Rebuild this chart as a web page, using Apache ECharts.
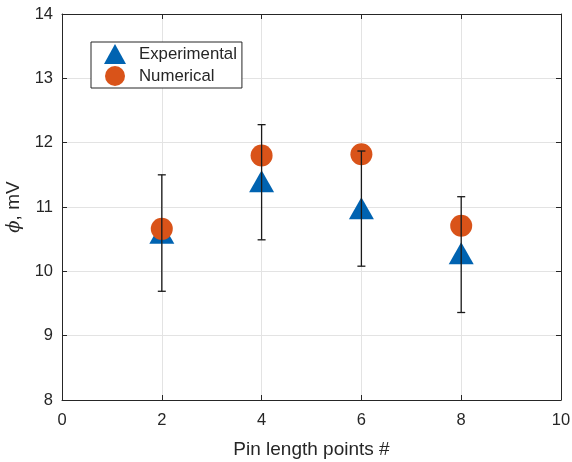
<!DOCTYPE html>
<html><head><meta charset="utf-8">
<script src="https://cdn.jsdelivr.net/npm/echarts@6/dist/echarts.min.js"></script>
<style>html,body{margin:0;padding:0;background:#fff}#c{width:572px;height:462px}</style>
</head><body><div id="c"></div>
<script>
const xPoints = [2, 4, 6, 8];
const experimental = [10.6, 11.4, 10.98, 10.28];
const numerical = [10.66, 11.8, 11.82, 10.71];
const errLow = [9.69, 10.49, 10.08, 9.36];
const errHigh = [11.5, 12.28, 11.87, 11.16];
const xTicks = [0, 2, 4, 6, 8, 10];
const yTicks = [8, 9, 10, 11, 12, 13, 14];

const chart = echarts.init(document.getElementById('c'));
const txt = '#262626';
const font = 'Liberation Sans, Arial, sans-serif';
const errData = xPoints.map((x, i) => [x, errLow[i], errHigh[i]]);
chart.setOption({
  animation: false,
  backgroundColor: '#fff',
  grid: {left: 62, right: 11, top: 14, bottom: 62, show: false, containLabel: false, outerBoundsMode: 'none'},
  legend: {
    orient: 'vertical', left: 91, top: 42,
    data: ['Experimental', 'Numerical'],
    backgroundColor: '#fff', borderColor: '#262626', borderWidth: 1,
    padding: [2, 5, 2, 13], itemWidth: 22, itemHeight: 20, itemGap: 2,
    textStyle: {fontSize: 16.8, color: txt, fontFamily: font, padding: [0, 0, 0, 8]}
  },
  xAxis: [{
    type: 'value', min: 0, max: 10, interval: 2,
    name: 'Pin length points #', nameLocation: 'middle', nameGap: 40,
    nameTextStyle: {fontSize: 19, color: txt, fontFamily: font},
    axisLine: {show: true, onZero: false, lineStyle: {color: txt, width: 1}},
    axisTick: {show: true, inside: true, length: 5, lineStyle: {color: txt}},
    axisLabel: {fontSize: 16.5, color: txt, fontFamily: font, margin: 12},
    splitLine: {show: true, lineStyle: {color: '#e3e3e3', width: 1}}
  }, {
    type: 'value', min: 0, max: 10, interval: 2, position: 'top',
    axisLine: {show: true, onZero: false, lineStyle: {color: txt, width: 1}},
    axisTick: {show: true, inside: true, length: 5, lineStyle: {color: txt}},
    axisLabel: {show: false}, splitLine: {show: false}
  }],
  yAxis: [{
    type: 'value', min: 8, max: 14, interval: 1,
    name: '{i|ϕ}, mV', nameLocation: 'middle', nameGap: 30,
    nameTextStyle: {fontSize: 19, color: txt, fontFamily: font,
      rich: {i: {fontSize: 18, fontStyle: 'italic', color: txt, fontFamily: 'DejaVu Serif, serif'}}},
    axisLine: {show: true, onZero: false, lineStyle: {color: txt, width: 1}},
    axisTick: {show: true, inside: true, length: 5, lineStyle: {color: txt}},
    axisLabel: {fontSize: 16.5, color: txt, fontFamily: font, margin: 9},
    splitLine: {show: true, lineStyle: {color: '#e3e3e3', width: 1}}
  }, {
    type: 'value', min: 8, max: 14, interval: 1, position: 'right',
    axisLine: {show: true, onZero: false, lineStyle: {color: txt, width: 1}},
    axisTick: {show: true, inside: true, length: 5, lineStyle: {color: txt}},
    axisLabel: {show: false}, splitLine: {show: false}
  }],
  series: [{
    name: 'Experimental', type: 'scatter', symbol: 'triangle', symbolSize: [25, 22],
    itemStyle: {color: '#0063B1', opacity: 1}, z: 2,
    data: xPoints.map((x, i) => [x, experimental[i]])
  }, {
    name: 'Numerical', type: 'scatter', symbol: 'circle', symbolSize: 22,
    itemStyle: {color: '#D95319', opacity: 1}, z: 3,
    data: xPoints.map((x, i) => [x, numerical[i]])
  }, {
    type: 'custom', z: 4, silent: true,
    data: errData,
    encode: {x: 0, y: [1, 2]},
    renderItem: function (params, api) {
      const lo = api.coord([api.value(0), api.value(1)]);
      const hi = api.coord([api.value(0), api.value(2)]);
      const w = 4;
      const style = {stroke: '#1a1a1a', lineWidth: 1.3, fill: null};
      return {type: 'group', children: [
        {type: 'line', shape: {x1: lo[0], y1: lo[1], x2: hi[0], y2: hi[1]}, style: style},
        {type: 'line', shape: {x1: lo[0] - w, y1: lo[1], x2: lo[0] + w, y2: lo[1]}, style: style},
        {type: 'line', shape: {x1: hi[0] - w, y1: hi[1], x2: hi[0] + w, y2: hi[1]}, style: style}
      ]};
    }
  }]
});
</script></body></html>
